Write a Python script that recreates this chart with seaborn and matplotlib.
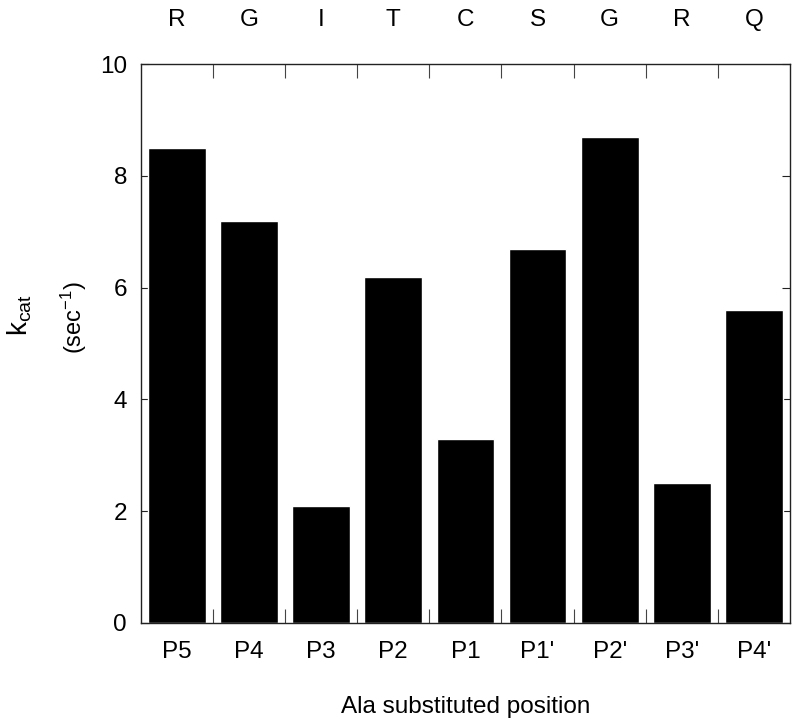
import numpy as np
import pandas as pd
import seaborn as sns
import matplotlib.pyplot as plt

plt.switch_backend('Agg')

positions = ["P5", "P4", "P3", "P2", "P1", "P1'", "P2'", "P3'", "P4'"]
residues = ["R", "G", "I", "T", "C", "S", "G", "R", "Q"]
kcat = [8.5, 7.2, 2.1, 6.2, 3.3, 6.7, 8.7, 2.5, 5.6]

df = pd.DataFrame({"position": positions, "kcat": kcat})

sns.set_style("white")
plt.rcParams['font.family'] = ['Liberation Sans', 'DejaVu Sans']
plt.rcParams['text.color'] = 'black'
plt.rcParams['xtick.labelcolor'] = 'black'
plt.rcParams['ytick.labelcolor'] = 'black'
plt.rcParams['axes.labelcolor'] = 'black'

fs = 17.5

fig = plt.figure(figsize=(8, 7.21), dpi=100)
ax = fig.add_axes([0.176, 0.136, 0.8115, 0.775])

sns.barplot(data=df, x="position", y="kcat", color="black", width=0.8,
            saturation=1, ax=ax)

ax.set_xlim(-0.5, len(positions) - 0.5)
ax.set_ylim(0, 10)
ax.set_yticks(np.arange(0, 11, 2))

# ticks at category boundaries, labels at centers
bounds = np.arange(0.5, len(positions) - 1, 1)
ax.set_xticks(bounds, minor=True)
ax.tick_params(axis='x', which='major', length=0, labelsize=fs, pad=13)
ax.tick_params(axis='x', which='minor', direction='in', length=10, width=0.8,
               color='#444444', top=True, bottom=True)
ax.tick_params(axis='y', which='major', direction='in', length=6, width=0.8,
               color='#222222', left=True, right=True, labelsize=fs, pad=10)

top = ax.secondary_xaxis('top')
top.set_xticks(range(len(residues)))
top.set_xticklabels(residues)
top.tick_params(length=0, labelsize=fs, pad=24)
top.spines['top'].set_visible(False)

for s in ax.spines.values():
    s.set_color('#222222')
    s.set_linewidth(1.0)

ax.set_xlabel("Ala substituted position", fontsize=fs, labelpad=24)
ax.set_ylabel("")
fig.text(0.025, 0.563, r"$\mathregular{k_{cat}}$", rotation=90, fontsize=20,
         ha='center', va='center')
fig.text(0.092, 0.56, r"$\mathregular{(sec^{-1})}$", rotation=90, fontsize=17,
         ha='center', va='center')

fig.savefig("out.png", dpi=100)
